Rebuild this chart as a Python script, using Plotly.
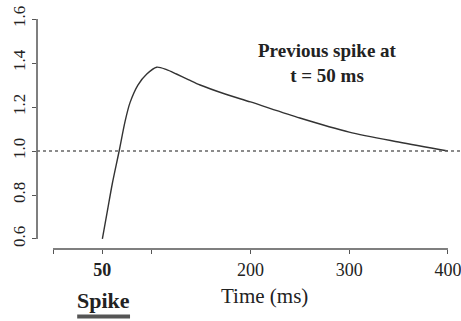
import plotly.graph_objects as go

# Data
time_ms = [50, 55, 60, 67, 73, 78, 86, 95, 105, 115, 125, 137, 149, 175, 200, 250, 300, 350, 400]
ratio = [0.60, 0.725, 0.85, 1.00, 1.135, 1.22, 1.30, 1.35, 1.381, 1.370, 1.350, 1.325, 1.30,
         1.258, 1.223, 1.15, 1.086, 1.041, 1.00]
x_tickvals = [0, 50, 100, 200, 300, 400]
x_ticktext = ["", "<b>50</b>", "", "200", "300", "400"]
y_tickvals = [0.6, 0.8, 1.0, 1.2, 1.4, 1.6]
y_ticktext = ["0.6", "0.8", "1.0", "1.2", "1.4", "1.6"]
reference_level = 1.0

serif = "Liberation Serif"
axis_col = "#555555"

fig = go.Figure()
fig.add_trace(go.Scatter(x=time_ms, y=ratio, mode="lines",
                         line=dict(color="#333333", width=1.4, shape="spline", smoothing=0.8),
                         hoverinfo="skip", showlegend=False))

fig.update_layout(
    width=461, height=321,
    margin=dict(l=37, r=0, t=10, b=72, autoexpand=False),
    paper_bgcolor="white", plot_bgcolor="white",
    font=dict(family=serif, color="#222222"),
    xaxis=dict(range=[-16.2, 413.2], showgrid=False, zeroline=False, showline=False,
               automargin=False, ticklabeloverflow="allow",
               tickmode="array", tickvals=x_tickvals, ticktext=x_ticktext,
               ticks="outside", ticklen=4, tickcolor=axis_col, tickwidth=1.2,
               tickfont=dict(family=serif, size=18, color="#222222")),
    yaxis=dict(range=[0.5545, 1.641], showgrid=False, zeroline=False, showline=False,
               automargin=False,
               tickmode="array", tickvals=y_tickvals, ticktext=y_ticktext,
               ticks="outside", ticklen=4, tickcolor=axis_col, tickwidth=1.2,
               tickangle=-90,
               tickfont=dict(family=serif, size=17, color="#222222")),
)

# axis lines (R-style, spanning the tick range only)
fig.add_shape(type="line", xref="paper", yref="y", x0=0, x1=0,
              y0=y_tickvals[0], y1=y_tickvals[-1], line=dict(color=axis_col, width=1.5))
fig.add_shape(type="line", xref="x", yref="paper", x0=x_tickvals[0], x1=x_tickvals[-1],
              y0=0, y1=0, line=dict(color=axis_col, width=1.5))
# dotted reference line
fig.add_shape(type="line", xref="paper", yref="y", x0=0, x1=1,
              y0=reference_level, y1=reference_level,
              line=dict(color="#666666", width=1.5, dash="dot"))
# spike bar
fig.add_shape(type="line", xref="x", yref="paper", x0=24.5, x1=78,
              y0=-0.282, y1=-0.282, line=dict(color="#555555", width=4))

fig.add_annotation(x=51.6, y=-0.215, xref="x", yref="paper", text="<b>Spike</b>",
                   showarrow=False, xanchor="center", yanchor="middle",
                   font=dict(family=serif, size=22, color="#222222"))
fig.add_annotation(x=213.7, y=-0.197, xref="x", yref="paper", text="Time (ms)",
                   showarrow=False, xanchor="center", yanchor="middle",
                   font=dict(family=serif, size=21, color="#222222"))
fig.add_annotation(x=278.5, y=1.398, xref="x", yref="y",
                   text="<b>Previous spike at<br>t = 50 ms</b>",
                   showarrow=False, align="center", xanchor="center", yanchor="middle",
                   font=dict(family=serif, size=19, color="#222222"))

fig.write_html("out.html")
